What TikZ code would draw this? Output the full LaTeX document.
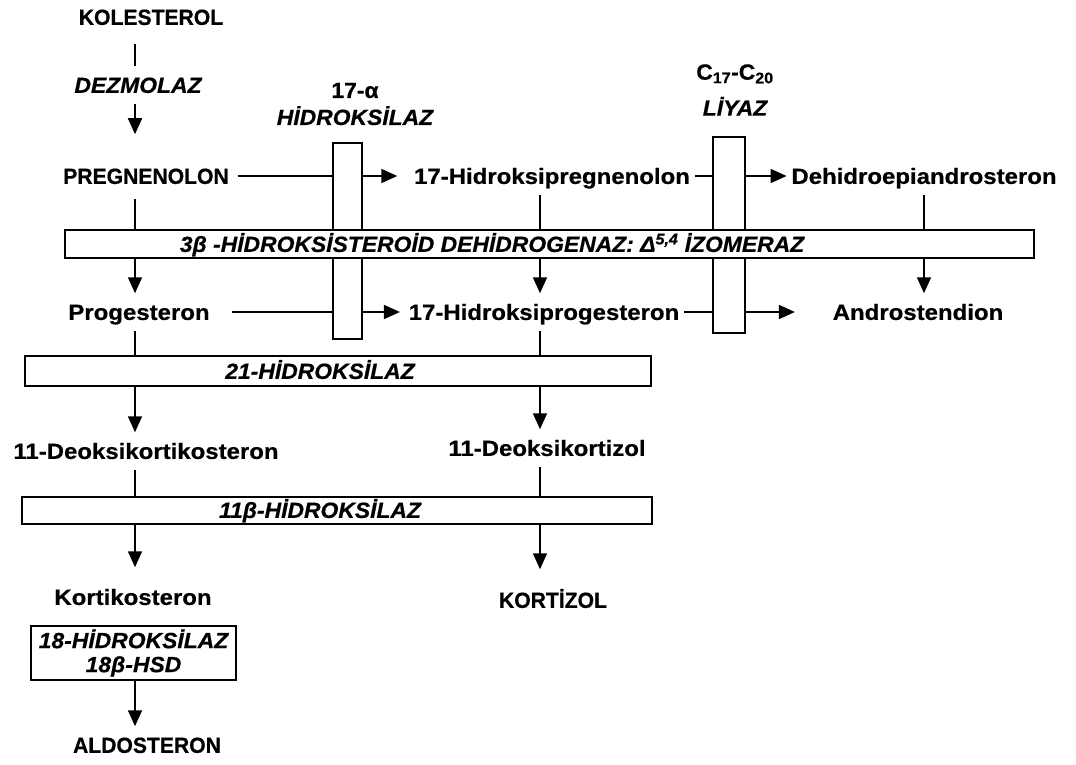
\documentclass[tikz,border=0pt]{standalone}
\usepackage{fontspec}
\setmainfont{Liberation Sans}
\newfontfamily\kfont[FakeStretch=0.96,FakeBold=0.6]{Liberation Sans}
\newfontfamily\nfont[FakeStretch=1.09,FakeBold=0.6]{Liberation Sans}
\newfontfamily\efont[FakeStretch=1.04,FakeBold=0.6]{Liberation Sans}
\usetikzlibrary{arrows.meta,positioning,calc}

\tikzset{
  yazi/.style={inner xsep=4pt, inner ysep=5pt},
  tek/.style={yazi, text height=20.8pt, text depth=5pt},
  madde/.style={tek, font=\kfont\bfseries\fontsize{22}{26}\selectfont},
  ad/.style={tek, font=\nfont\bfseries\fontsize{22}{26}\selectfont},
  enzim/.style={tek, font=\efont\bfseries\itshape\fontsize{22}{26}\selectfont},
  kutu/.style={draw, inner sep=0pt},
  ok/.style={-{Triangle[width=14pt,length=16pt]}}
}

\begin{document}
\begin{tikzpicture}[x=1pt, y=-1pt, line width=1.7pt]
    \useasboundingbox (0,0) rectangle (1076,765);

    % sutunlar
    \coordinate (s1) at (135,0);
    \coordinate (s2) at (540,0);
    \coordinate (s3) at (924,0);

    % maddeler
    \node[madde] (kol) at (151,17) {KOLESTEROL};
    \node[enzim] (dez) at (138,85) {DEZMOLAZ};
    \node[madde] (preg) at (146,176) {PREGNENOLON};
    \node[ad] (ohpreg) at (552,176) {17-Hidroksipregnenolon};
    \node[ad] (dhea) at (924,176) {Dehidroepiandrosteron};
    \node[ad] (prog) at (139,312) {Progesteron};
    \node[ad] (ohprog) at (544,312) {17-Hidroksiprogesteron};
    \node[ad] (andro) at (918,312) {Androstendion};
    \node[ad] (dok) at (146,451) {11-Deoksikortikosteron};
    \node[ad] (dokz) at (547,448) {11-Deoksikortizol};
    \node[ad] (kort) at (133,597) {Kortikosteron};
    \node[madde] (kortz) at (553,600) {KORTİZOL};
    \node[madde] (aldo) at (147,745) {ALDOSTERON};

    % enzim etiketleri
    \node[yazi, align=center, font=\efont\bfseries\fontsize{22}{27}\selectfont] (hid17) at (355,104) {17-α\\\itshape HİDROKSİLAZ};
    \node[yazi, align=center, font=\efont\bfseries\fontsize{22}{36}\selectfont] (liy) at (735,90) {C\textsubscript{17}-C\textsubscript{20}\\\itshape LİYAZ};

    % kutular
    \node[kutu, minimum width=29pt, minimum height=196pt] (box17a) at (347.5,241) {};
    \node[kutu, minimum width=32pt, minimum height=196pt] (boxliy) at (729,235) {};
    \node[kutu, fill=white, minimum width=969pt, minimum height=28pt] (box3b) at (549.5,244) {};
    \node[kutu, minimum width=626pt, minimum height=30pt] (box21) at (338,371) {};
    \node[kutu, minimum width=630pt, minimum height=27pt] (box11) at (337,510.5) {};
    \node[kutu, minimum width=205pt, minimum height=54pt, align=center,
          font=\efont\bfseries\itshape\fontsize{22}{24}\selectfont] (box18) at (133.5,653) {18-HİDROKSİLAZ\\18β-HSD};

    \node[enzim] (t3b) at (492,244) {3β -HİDROKSİSTEROİD DEHİDROGENAZ: Δ\textsuperscript{5,4} İZOMERAZ};
    \node[enzim] (t21) at (320,371) {21-HİDROKSİLAZ};
    \node[enzim] (t11) at (320,510) {11β-HİDROKSİLAZ};

    % birinci sutun
    \draw[shorten <=8pt] (kol.south -| s1) -- (dez.north -| s1);
    \draw[ok, shorten >=23pt] (dez.south -| s1) -- (preg.north -| s1);
    \draw[shorten <=4pt] (preg.south -| s1) -- (box3b.north -| s1);
    \draw[ok] (box3b.south -| s1) -- (prog.north -| s1);
    \draw (prog.south -| s1) -- (box21.north -| s1);
    \draw[ok] (box21.south -| s1) -- (dok.north -| s1);
    \draw (dok.south -| s1) -- (box11.north -| s1);
    \draw[ok, shorten >=11pt] (box11.south -| s1) -- (kort.north -| s1);
    \draw[ok] (box18.south -| s1) -- (aldo.north -| s1);

    % ikinci sutun
    \draw (ohpreg.south -| s2) -- (box3b.north -| s2);
    \draw[ok] (box3b.south -| s2) -- (ohprog.north -| s2);
    \draw (ohprog.south -| s2) -- (box21.north -| s2);
    \draw[ok] (box21.south -| s2) -- (dokz.north -| s2);
    \draw (dokz.south -| s2) -- (box11.north -| s2);
    \draw[ok, shorten >=12pt] (box11.south -| s2) -- (kortz.north -| s2);

    % ucuncu sutun
    \draw (dhea.south -| s3) -- (box3b.north -| s3);
    \draw[ok] (box3b.south -| s3) -- (andro.north -| s3);

    % yatay oklar
    \draw[shorten <=4pt] (preg.east) -- (box17a.west |- preg.east);
    \draw[ok, shorten >=12pt] (box17a.east |- preg.east) -- (ohpreg.west);
    \draw (ohpreg.east) -- (boxliy.west |- ohpreg.east);
    \draw[ok] (boxliy.east |- ohpreg.east) -- (dhea.west);
    \draw[shorten <=18pt] (prog.east) -- (box17a.west |- prog.east);
    \draw[ok, shorten >=4pt] (box17a.east |- prog.east) -- (ohprog.west);
    \draw (ohprog.east) -- (boxliy.west |- ohprog.east);
    \draw[ok, shorten >=33pt] (boxliy.east |- ohprog.east) -- (andro.west);
\end{tikzpicture}
\end{document}
